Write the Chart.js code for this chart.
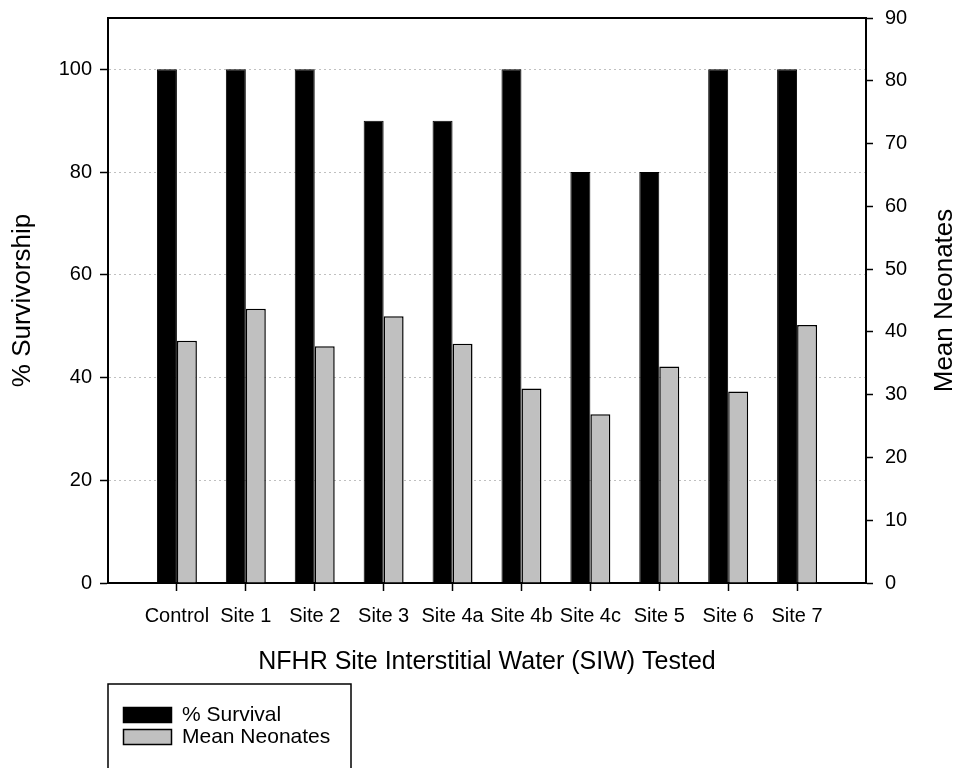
<!DOCTYPE html>
<html>
<head>
<meta charset="utf-8">
<script src="https://cdn.jsdelivr.net/npm/chart.js@4"></script>
<style>body{margin:0;background:#fff}</style>
</head>
<body>
<canvas id="myChart" width="957" height="768"></canvas>
<script>
// donnees
const sites = ["Control", "Site 1", "Site 2", "Site 3", "Site 4a", "Site 4b", "Site 4c", "Site 5", "Site 6", "Site 7"];
const survival = [100, 100, 100, 90, 90, 100, 80, 80, 100, 100];
const neonates = [38.6, 43.7, 37.7, 42.5, 38.1, 31.0, 26.9, 34.5, 30.5, 41.1];
const leftMax = 110, leftStep = 20;
const rightMax = 90, rightStep = 10;

const font = "'Liberation Sans', Arial, sans-serif";
const ctx = document.getElementById("myChart");

// cases vides aux deux bouts pour garder l'espace de chaque cote
const labels = [""].concat(sites, [""]);
const pad = (arr) => [null].concat(arr, [null]);

// pas de marge auto en haut/bas pour les axes verticaux
const noPad = (s) => { s.paddingTop = 0; s.paddingBottom = 0; };

// cadre du haut, titre de droite et legende
const extras = {
  id: "extras",
  afterDraw(chart) {
    const c = chart.ctx;
    const a = chart.chartArea;
    c.save();
    c.strokeStyle = "#000";
    c.lineWidth = 2;
    c.beginPath();
    c.moveTo(a.left, a.top);
    c.lineTo(a.right, a.top);
    c.stroke();

    // titre axe de droite, lu de bas en haut
    c.fillStyle = "#000";
    c.font = "26px " + font;
    c.textAlign = "center";
    c.textBaseline = "middle";
    c.translate(945, (a.top + a.bottom) / 2);
    c.rotate(-Math.PI / 2);
    c.fillText("Mean Neonates", 0, 0);
    c.restore();

    // legende
    c.save();
    const lx = a.left, ly = 684;
    c.strokeStyle = "#000";
    c.lineWidth = 1.5;
    c.strokeRect(lx, ly, 243, 100);
    c.font = "21px " + font;
    c.textBaseline = "middle";
    chart.data.datasets.forEach((ds, i) => {
      const y = ly + 23 + i * 22;
      c.fillStyle = ds.backgroundColor;
      c.fillRect(lx + 15, y, 49, 16);
      c.strokeStyle = "#000";
      c.lineWidth = 1.5;
      c.strokeRect(lx + 15.5, y + 0.5, 48, 15);
      c.fillStyle = "#000";
      c.fillText(ds.label, lx + 74, y + 8);
    });
    c.restore();
  }
};

new Chart(ctx, {
  type: "bar",
  data: {
    labels: labels,
    datasets: [
      {
        label: "% Survival",
        data: pad(survival),
        yAxisID: "y",
        backgroundColor: "#000000",
        borderColor: "#000000",
        borderWidth: 1,
        categoryPercentage: 0.58,
        barPercentage: 1
      },
      {
        label: "Mean Neonates",
        data: pad(neonates),
        yAxisID: "y2",
        backgroundColor: "#c0c0c0",
        borderColor: "#000000",
        borderWidth: 1.5,
        categoryPercentage: 0.58,
        barPercentage: 1
      }
    ]
  },
  options: {
    responsive: false,
    animation: false,
    devicePixelRatio: 1,
    layout: { padding: { top: 18, bottom: 80, left: 0, right: 0 } },
    plugins: { legend: { display: false }, tooltip: { enabled: false } },
    scales: {
      x: {
        offset: false,
        afterFit: (s) => { s.height = 105; },
        grid: {
          offset: false,
          drawOnChartArea: false,
          tickLength: 8,
          tickColor: (c) => (c.index === 0 || c.index === labels.length - 1 ? "rgba(0,0,0,0)" : "#000"),
          tickWidth: 1.5
        },
        border: { color: "#000", width: 2 },
        ticks: { color: "#000", font: { family: font, size: 20 }, padding: 13, autoSkip: false, maxRotation: 0 },
        title: {
          display: true,
          text: "NFHR Site Interstitial Water (SIW) Tested",
          color: "#000",
          font: { family: font, size: 25 },
          padding: { top: 0, bottom: 11 }
        }
      },
      y: {
        position: "left",
        min: 0,
        max: leftMax,
        afterFit: (s) => { s.width = 108; noPad(s); },
        grid: {
          color: (c) => (c.tick && c.tick.value === 0 ? "rgba(0,0,0,0)" : "#c0c0c0"),
          lineWidth: 1,
          tickColor: "#000",
          tickLength: 8,
          tickWidth: 1.5,
          tickBorderDash: []
        },
        border: { color: "#000", width: 2, dash: [2, 3] },
        ticks: { stepSize: leftStep, includeBounds: false, color: "#000", font: { family: font, size: 20 }, padding: 8 },
        title: {
          display: true,
          text: "% Survivorship",
          color: "#000",
          font: { family: font, size: 26 },
          padding: { top: 7, bottom: 0 }
        }
      },
      y2: {
        position: "right",
        min: 0,
        max: rightMax,
        afterFit: (s) => { s.width = 91; noPad(s); },
        grid: { drawOnChartArea: false, tickColor: "#000", tickLength: 7, tickWidth: 1.5 },
        border: { color: "#000", width: 2 },
        ticks: { stepSize: rightStep, color: "#000", font: { family: font, size: 20 }, padding: 12 }
      }
    }
  },
  plugins: [extras]
});
</script>
</body>
</html>
